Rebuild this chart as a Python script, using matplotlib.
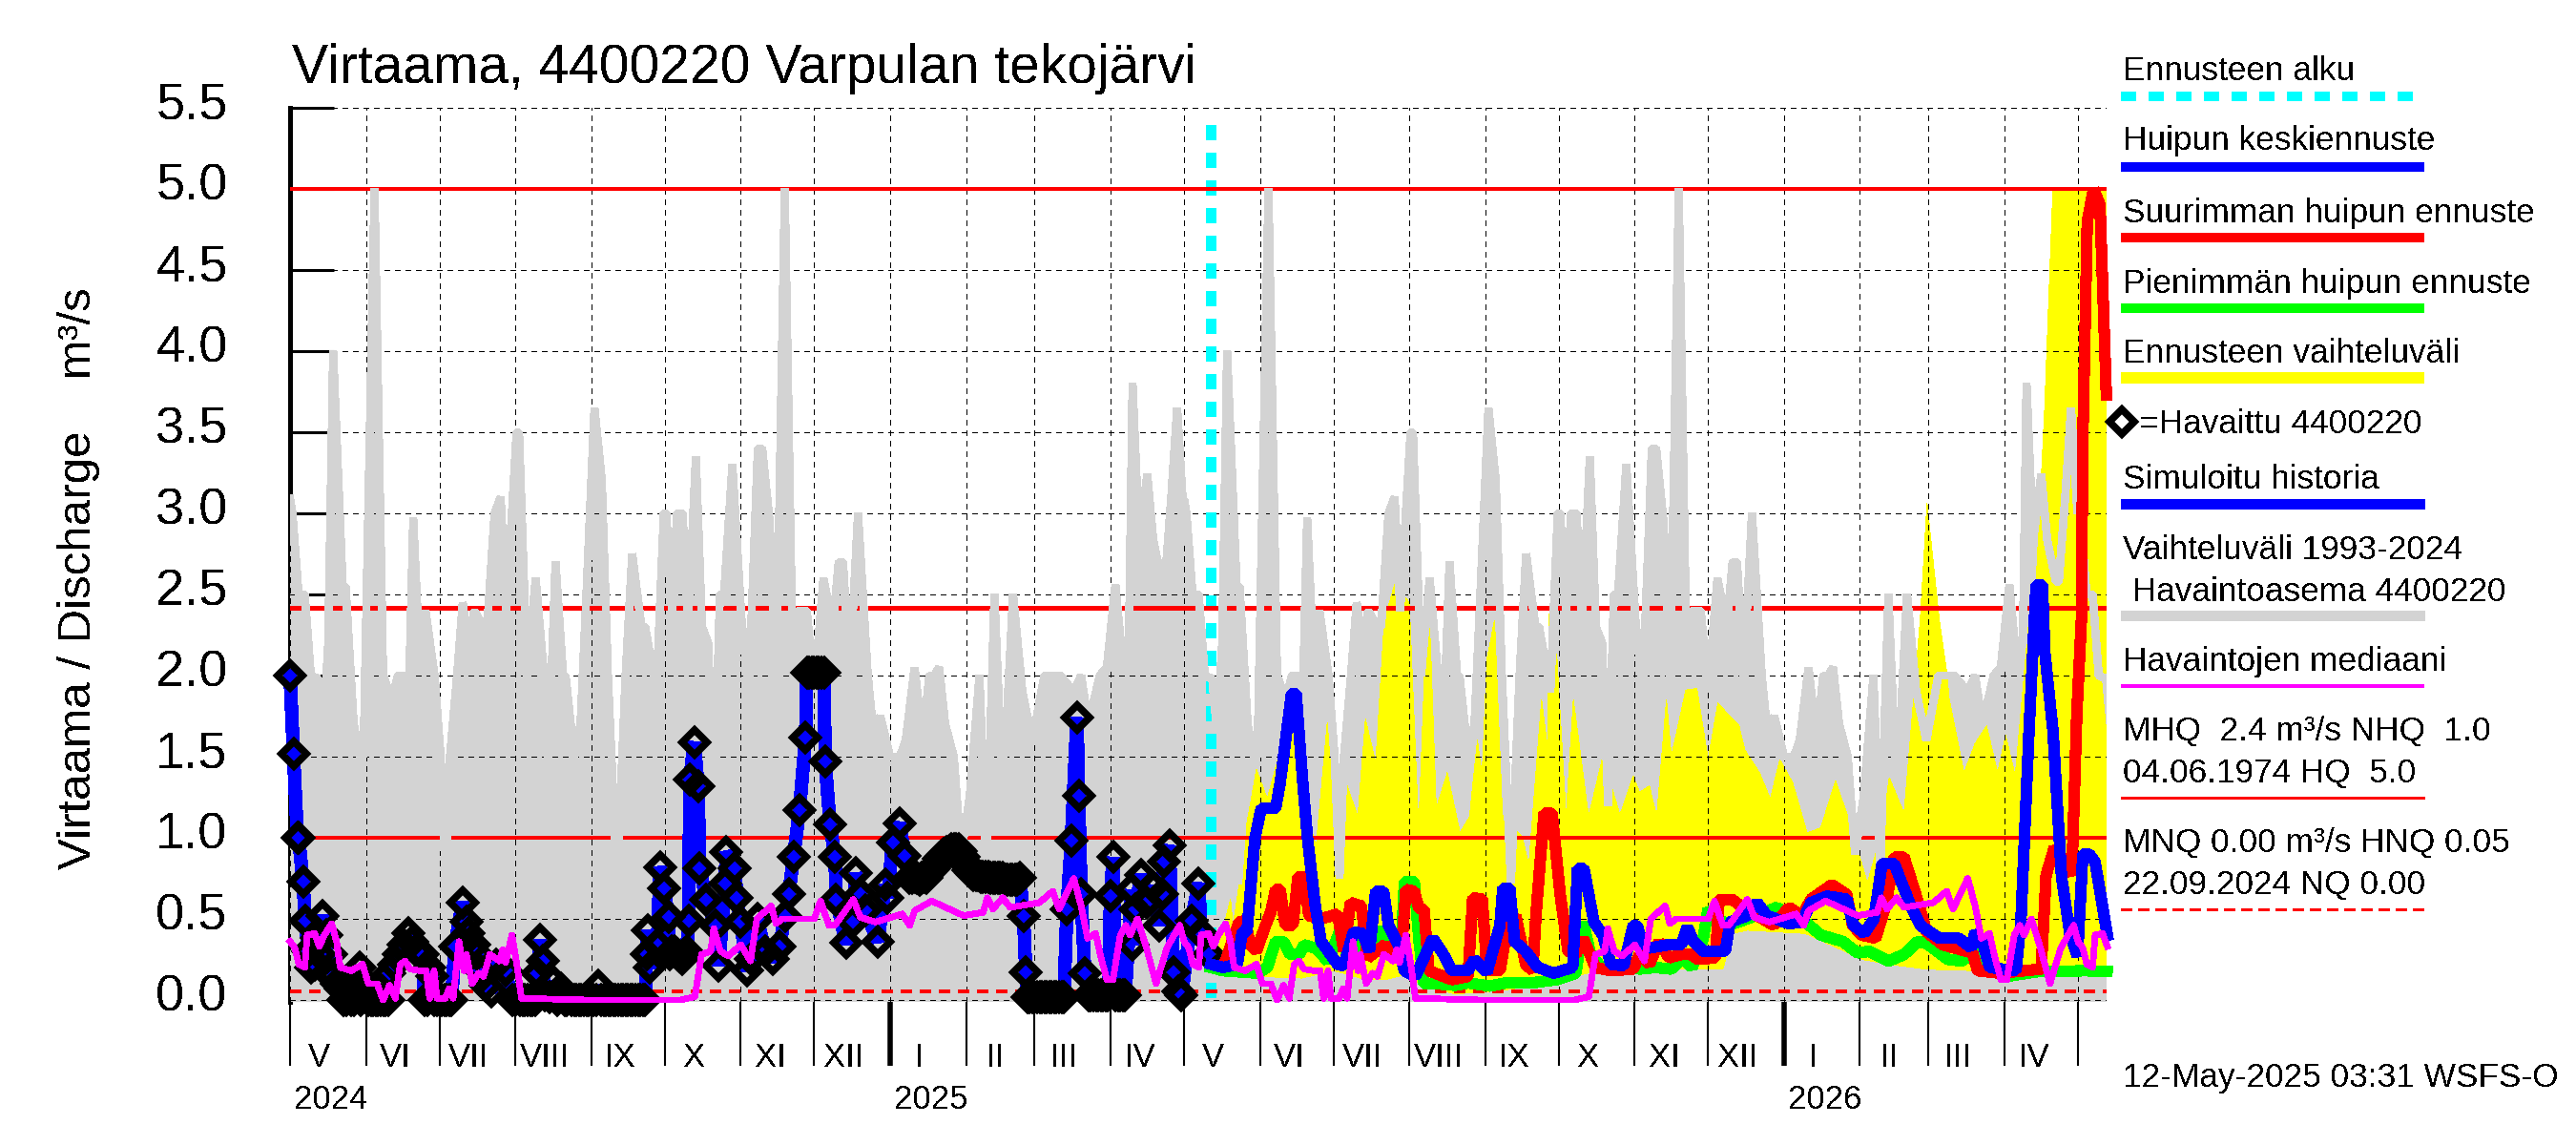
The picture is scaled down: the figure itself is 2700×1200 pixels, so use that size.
import numpy as np
import matplotlib
matplotlib.use("Agg")
import matplotlib.pyplot as plt
from matplotlib.lines import Line2D
from matplotlib.transforms import ScaledTranslation

plt.rcParams['font.family'] = ['Liberation Sans', 'DejaVu Sans']
plt.rcParams['text.antialiased'] = False
plt.rcParams['lines.antialiased'] = False
plt.rcParams['patch.antialiased'] = False
plt.rcParams['lines.scale_dashes'] = False

# all x values are days since 1 May 2024

month_days = [0, 31, 61, 92, 123, 153, 184, 214, 245, 276, 304, 335, 365, 396, 426, 457, 488, 518,
              549, 579, 610, 641, 669, 700, 730]
month_names = ['V', 'VI', 'VII', 'VIII', 'IX', 'X', 'XI', 'XII', 'I', 'II', 'III', 'IV',
               'V', 'VI', 'VII', 'VIII', 'IX', 'X', 'XI', 'XII', 'I', 'II', 'III', 'IV']
year_days = [245, 610]
year_names = [(0, '2024'), (245, '2025'), (610, '2026')]
ytick_vals = [0.0, 0.5, 1.0, 1.5, 2.0, 2.5, 3.0, 3.5, 4.0, 4.5, 5.0, 5.5]
forecast_start = 376

# upper edge of the 1993-2024 range, one year (it repeats in the picture)
grey_days = [0, 1, 3.5, 6, 8.5, 11.5, 13.5, 15.6, 17.6, 21.5, 22.7, 26, 28.5, 30, 34.5, 38, 41.7, 44, 46.5, 48.4,
             50.3, 52.9, 55.3, 59, 61.5, 63.5, 65.3, 68.2, 70.5, 72.7, 75.2, 79, 80.5, 83.5, 86, 88.3, 92.5,
             93.5, 96.8, 100.3, 103.7, 105.5, 108.4, 111.5, 112.5, 116, 118.6, 121, 124.3, 127.3, 129.8, 133.5,
             137, 139.7, 143.5, 145, 149.6, 152.6, 153.6, 156, 158, 160.3, 162.5, 165.7, 168.2, 170.7, 173.2,
             175.5, 177.2, 180.6, 184.3, 187.3, 191, 192.8, 195.8, 198.6, 202, 205, 207.5, 211, 214, 217.8,
             221.6, 224, 225.8, 228.5, 231.9, 235.9, 238.2, 241, 245, 249, 251.4, 255, 258.3, 261, 263, 265,
             267.5, 271, 274, 277.5, 281.5, 284.3, 287.6, 290.6, 292.4, 295.2, 299, 303.1, 308, 314.5, 320,
             323, 326, 330.6, 333.5, 337, 339.5, 342.5, 344, 346.7, 350, 352.5, 356, 357.2, 359.8, 362.2, 364.8]
grey_vals = [3.09, 3.0, 2.5, 2.5, 2.0, 1.98, 1.65, 2.2, 4.0, 2.55, 2.55, 1.7, 1.5, 1.5, 5.0, 2.0, 1.85, 2.0, 2.0, 1.8,
             2.97, 2.1, 2.4, 2.0, 1.5, 0.75, 1.5, 2.0, 2.45, 2.2, 2.4, 2.3, 2.3, 3.0, 3.1, 2.4, 3.5,
             3.5, 2.0, 2.6, 2.0, 1.45, 2.7, 2.0, 2.0, 1.5, 1.7, 2.5, 3.65, 3.2, 2.0, 0.72,
             2.0, 2.75, 2.3, 2.3, 1.9, 3.0, 3.0, 2.4, 3.0, 3.0, 2.3, 3.35, 2.3, 2.2, 1.2,
             2.5, 2.5, 3.3, 2.35, 1.9, 3.4, 3.4, 2.95, 2.0, 5.0, 2.3, 2.4, 2.4, 1.9, 2.6,
             2.3, 2.7, 2.7, 2.0, 3.0, 2.0, 1.65, 1.75, 1.5, 1.5, 1.6, 2.05, 1.6, 2.0, 2.0, 2.05,
             1.7, 1.5, 0.9, 1.25, 2.0, 0.8, 2.5, 1.4, 1.66, 2.5, 1.9, 1.6, 2.0, 2.0, 1.9,
             2.0, 1.7, 2.0, 2.05, 2.56, 2.15, 2.2, 3.8, 2.83, 3.24, 2.83, 2.58, 2.58, 3.1, 3.65, 3.0]

# median of the observations, one year (it repeats too)
median_days = [0, 2, 3.6, 6, 7, 10, 12, 14, 17, 19, 20.5, 25, 29.6, 32, 35.5, 38, 40.6, 43, 45, 47, 49, 53,
               55.6, 57, 58.8, 60, 63.4, 65, 66.6, 69, 71, 72, 74.4, 77, 79, 81.6, 85.5, 86.8, 88, 90.6,
               92.6, 94.5, 120.5, 159.5, 165.3, 168, 171.8, 173, 175.7, 179, 184, 188, 190.6, 196.5,
               198.4, 201, 214, 216.6, 220, 222.5, 230, 232.8, 239, 250, 253, 255, 262, 275, 283, 284.7,
               287, 291, 294, 306, 311.4, 314, 320, 323, 325.6, 328.9, 330.8, 333.5, 336, 339, 341.3,
               343, 346, 349.7, 353.6, 358, 363.3]
median_vals = [0.36, 0.32, 0.22, 0.2, 0.4, 0.41, 0.33, 0.4, 0.47, 0.36, 0.2, 0.18, 0.22, 0.1, 0.1, 0.0, 0.09,
               0.01, 0.22, 0.24, 0.19, 0.18, 0.18, 0.01, 0.18, 0.01, 0.01, 0.07, 0.01, 0.36, 0.18, 0.28,
               0.1, 0.165, 0.145, 0.28, 0.24, 0.31, 0.23, 0.4, 0.22, 0.01, 0.0, 0.0, 0.02, 0.28, 0.3, 0.44,
               0.3, 0.27, 0.34, 0.24, 0.5, 0.58, 0.47, 0.5, 0.5, 0.61, 0.46, 0.46, 0.62, 0.51, 0.48, 0.53,
               0.46, 0.55, 0.61, 0.52, 0.54, 0.63, 0.56, 0.63, 0.57, 0.6, 0.67, 0.56, 0.75, 0.58, 0.38,
               0.41, 0.28, 0.125, 0.125, 0.4, 0.46, 0.4, 0.5, 0.32, 0.1, 0.32, 0.46]

# observed discharge
obs_days = [0, 1.4, 3, 3.5, 5.3, 6.2, 7.5, 8.5, 10, 11, 12, 13.4, 14.7, 15.3, 16.6, 18, 19, 20.5, 21.8, 23,
            24, 25, 27, 28.3, 30, 31, 32, 33, 36, 38, 40, 40.6, 42.6, 44.5, 46.5, 48.4, 50, 52, 54, 55, 57,
            58, 60, 63, 66, 67.3, 70.4, 72, 73, 75, 76.4, 77.7, 80, 82, 84, 88, 90.6, 94, 98, 101, 102,
            103.4, 107, 110.8, 115, 120, 124, 126, 128, 132, 138, 145, 145.5, 146, 147, 150, 151, 152.7,
            154.5, 157, 160, 162, 162.7, 163.3, 165, 166.6, 167.3, 170, 173.7, 175, 177.7, 178, 181.6,
            182.5, 184, 186.7, 188, 190.7, 194, 197, 200, 202, 203.6, 205.6, 208, 210.5, 211, 214, 216,
            218, 218.5, 220.5, 222.5, 223, 227, 230, 231, 233, 235, 240, 243, 244, 246, 248.8, 251, 253,
            258, 260, 263, 268, 273, 276, 280, 289, 298, 299.5, 300.4, 301, 305, 310, 316, 317.2, 319,
            321.3, 322, 323, 324.5, 326, 330, 335, 336, 338, 340, 343.6, 344, 345, 347.5, 350, 352, 354.8,
            356, 356.8, 359, 360.8, 362.5, 364, 368, 371, 372, 375]
obs_vals = [2.0, 1.52, 1.0, 1.0, 0.73, 0.49, 0.3, 0.2, 0.22, 0.38, 0.28, 0.52, 0.4, 0.17, 0.28, 0.15, 0.1, 0.07,
            0.0, 0.0, 0.05, 0.0, 0.08, 0.2, 0.12, 0.05, 0.0, 0.0, 0.0, 0.0, 0.0, 0.165, 0.22, 0.28, 0.34, 0.41,
            0.36, 0.3, 0.28, 0.0, 0.2, 0.145, 0.0, 0.0, 0.0, 0.33, 0.6, 0.48, 0.41, 0.34, 0.28, 0.18, 0.09,
            0.05, 0.22, 0.18, 0.0, 0.0, 0.0, 0.165, 0.37, 0.24, 0.115, 0.07, 0.0, 0.0, 0.0, 0.09, 0.0, 0.0,
            0.0, 0.0, 0.28, 0.43, 0.2, 0.34, 0.82, 0.69, 0.51, 0.3, 0.25, 0.3, 0.49, 1.36, 1.59, 1.32, 0.81,
            0.62, 0.46, 0.21, 0.72, 0.91, 0.81, 0.63, 0.48, 0.18, 0.25, 0.5, 0.3, 0.25, 0.33, 0.52, 0.65,
            0.88, 1.17, 1.62, 2.02, 2.02, 2.02, 2.02, 1.47, 1.08, 0.88, 0.62, 0.35, 0.48, 0.78, 0.65, 0.55,
            0.36, 0.71, 0.63, 0.97, 1.09, 0.89, 0.75, 0.75, 0.75, 0.81, 0.91, 0.93, 0.83, 0.77, 0.75, 0.75,
            0.52, 0.17, 0.02, 0.02, 0.02, 0.02, 0.56, 0.98, 1.74, 1.26, 0.65, 0.165, 0.03, 0.03, 0.64, 0.88,
            0.03, 0.03, 0.68, 0.34, 0.56, 0.77, 0.6, 0.7, 0.46, 0.65, 0.85, 0.95, 0.17, 0.05, 0.03, 0.49,
            0.72, 0.41, 0.28]
# the dense stretches, where the diamonds run together into black blobs
run_days = [22, 26, 29, 34, 35, 37, 39, 56, 59, 61, 62, 64, 65, 92, 95, 96, 97, 99, 100, 104, 106, 109, 112, 113,
            116, 117, 118, 119, 121, 122, 123, 125, 127, 129, 130, 131, 133, 134, 135, 136, 137, 139, 140, 141,
            142, 143, 144, 155, 156, 158, 159, 161, 212, 213, 215, 217, 254, 255, 256, 257, 259, 261, 262, 264,
            265, 266, 267, 269, 270, 271, 272, 274, 275, 277, 278, 279, 281, 282, 283, 284, 285, 286, 287, 288,
            290, 291, 292, 293, 294, 295, 296, 297, 302, 303, 304, 306, 307, 308, 309, 311, 312, 313, 314, 315,
            327, 328, 329, 331, 332, 333, 334, 337, 339, 341]
run_vals = [0, 0, 0, 0, 0, 0, 0, 0, 0, 0, 0, 0, 0, 0, 0, 0, 0, 0, 0, 0.03, 0.02, 0, 0, 0,
            0, 0, 0, 0, 0, 0, 0, 0, 0, 0, 0, 0, 0, 0, 0, 0, 0, 0, 0, 0,
            0, 0, 0, 0.28, 0.3, 0.28, 0.27, 0.28, 2.02, 2.02, 2.02, 2.02, 0.75, 0.76, 0.75, 0.74, 0.76, 0.78, 0.8, 0.84,
            0.87, 0.89, 0.9, 0.92, 0.93, 0.93, 0.93, 0.92, 0.88, 0.8, 0.78, 0.77, 0.77, 0.76, 0.76, 0.76, 0.76, 0.75, 0.75, 0.75,
            0.75, 0.75, 0.74, 0.74, 0.74, 0.74, 0.74, 0.74, 0.02, 0.02, 0.02, 0.02, 0.02, 0.02, 0.02, 0.02, 0.02, 0.02, 0.02, 0.02,
            0.03, 0.03, 0.03, 0.03, 0.03, 0.03, 0.03, 0.03, 0.03, 0.03]

# forecast: middle peak
blue_days = [376, 381, 386.8, 388.8, 390.7, 394, 396.5, 402.4, 404.3, 408.9, 410.8, 413.4, 415.4, 418.6, 421,
             427.7, 430.3, 434.2, 438, 440.7, 443.3, 446.5, 448.5, 452.4, 455, 459.5, 466.6, 470.6, 474.4,
             481, 483.5, 488.7, 494, 495.2, 498, 500, 504.5, 509.5, 516, 523.7, 525.7, 528.3, 532.4, 536,
             539.3, 544.5, 548.4, 550, 552, 555, 562.7, 568, 570.5, 573, 577, 586, 588, 595, 599, 603, 612,
             617.4, 621, 627.6, 635.7, 638.3, 642.8, 646.7, 650, 655, 661.7, 665.6, 673.5, 681.3, 686.5,
             688, 691, 694, 704.7, 706.7, 710, 712.9, 715.5, 716.5, 719.8, 723.3, 726.8, 729.8, 732, 734.6,
             737, 742]
blue_vals = [0.22, 0.2, 0.22, 0.42, 0.42, 1.0, 1.18, 1.18, 1.34, 1.89, 1.89, 1.36, 1.0, 0.58, 0.36,
             0.22, 0.21, 0.42, 0.41, 0.3, 0.67, 0.67, 0.46, 0.34, 0.18, 0.145, 0.38, 0.29, 0.18,
             0.18, 0.25, 0.17, 0.46, 0.69, 0.69, 0.36, 0.3, 0.2, 0.165, 0.2, 0.81, 0.81, 0.48, 0.4,
             0.22, 0.21, 0.46, 0.46, 0.36, 0.32, 0.34, 0.34, 0.45, 0.36, 0.3, 0.3, 0.48, 0.52, 0.6, 0.52, 0.47,
             0.48, 0.6, 0.64, 0.62, 0.46, 0.41, 0.5, 0.84, 0.84, 0.58, 0.46, 0.38, 0.38, 0.32,
             0.42, 0.36, 0.2, 0.18, 0.48, 1.65, 2.56, 2.56, 2.14, 1.66, 0.76, 0.4, 0.27, 0.9, 0.9,
             0.85, 0.4]

# forecast: largest peak
red_days = [376, 381, 387.5, 390, 392, 394.6, 397.8, 400.4, 402.4, 404.3, 406.3, 409.5, 411.5, 414, 416, 421,
            427.7, 430.3, 433, 437.4, 440, 447, 450, 453.6, 455.6, 459, 461, 463, 465, 474.4, 481, 482.9,
            486.8, 488.7, 494, 496.6, 500.5, 504.5, 507.4, 508.8, 512, 515.3, 518.6, 521.8, 525, 528, 533,
            539.3, 548.4, 551, 555, 559, 563, 568, 572, 575, 582, 583.5, 588.8, 594, 599, 605.7, 612, 617.4,
            621, 629.5, 635.6, 638, 641.8, 647.4, 651.5, 655, 659, 664, 668.2, 674.8, 687, 689, 698, 715,
            717, 720.4, 725.6, 727.5, 729.5, 731.4, 732, 733.8, 736.4, 739, 741.6]
red_vals = [0.22, 0.2, 0.48, 0.49, 0.34, 0.3, 0.44, 0.54, 0.68, 0.68, 0.46, 0.46, 0.76, 0.76, 0.52, 0.5,
            0.53, 0.3, 0.6, 0.58, 0.26, 0.34, 0.28, 0.26, 0.68, 0.67, 0.56, 0.56, 0.18, 0.125, 0.145, 0.63,
            0.62, 0.18, 0.18, 0.41, 0.52, 0.22, 0.18, 0.54, 1.15, 1.15, 0.65, 0.3, 0.28, 0.38, 0.2,
            0.18, 0.19, 0.28, 0.22, 0.36, 0.26, 0.28, 0.28, 0.25, 0.26, 0.62, 0.62, 0.56, 0.52, 0.46, 0.57, 0.52,
            0.62, 0.71, 0.65, 0.46, 0.4, 0.38, 0.58, 0.88, 0.88, 0.64, 0.42, 0.34, 0.29, 0.18, 0.165, 0.19,
            0.77, 0.94, 0.83, 0.77, 1.75, 2.34, 3.46, 4.8, 5.0, 4.9, 3.73]

# forecast: smallest peak
green_days = [376, 381, 395, 399, 402.4, 405.6, 408.3, 412, 414, 418.6, 423.8, 429, 431.6, 435, 439.4, 442,
              445.9, 450, 453.6, 455, 459, 461, 463, 468, 475.7, 481, 490, 496.5, 507, 517.3, 525, 528, 531,
              535.4, 539.3, 545.8, 551, 557.5, 564, 568.6, 572.5, 577, 579, 583, 587.5, 595, 607, 618.7, 625,
              634, 640, 644.8, 652.7, 659, 664.5, 668, 677, 682.6, 687.8, 693, 700.8, 713.8, 733.4, 741.9]
green_vals = [0.2, 0.18, 0.165, 0.2, 0.36, 0.36, 0.28, 0.28, 0.34, 0.32, 0.24, 0.44, 0.28, 0.22, 0.52, 0.3,
              0.44, 0.34, 0.28, 0.73, 0.73, 0.36, 0.1, 0.1, 0.09, 0.105, 0.085, 0.105, 0.105, 0.125, 0.165, 0.48, 0.28,
              0.2, 0.18, 0.22, 0.19, 0.2, 0.19, 0.26, 0.2, 0.38, 0.56, 0.5, 0.46, 0.5, 0.57, 0.48, 0.4,
              0.36, 0.29, 0.3, 0.24, 0.28, 0.36, 0.35, 0.25, 0.24, 0.3, 0.19, 0.145, 0.175, 0.18, 0.175]

# forecast range
ymax_days = [377, 384, 385, 387.5, 389, 390.7, 394.6, 399, 409, 415, 419, 423.5, 427, 431.6, 436, 439.1, 443.3,
             446.8, 451, 457, 460.8, 464.7, 468, 472.5, 477.7, 481.6, 484.8, 486.7, 488.7, 491.8, 495, 503.2,
             505.8, 511, 513.4, 514, 517.3, 521, 524, 530.2, 536, 543, 548.4, 551, 555, 558, 562, 564, 569.9,
             574.4, 579, 583, 586, 591.6, 594, 600, 604.4, 608.3, 613.5, 619.4, 625, 631, 637, 644, 648.7, 653,
             659, 663, 665.6, 668.4, 673.4, 676.4, 677.4, 683.5, 688, 692.7, 697.2, 700.5, 704.4, 710, 712.9,
             716.4, 719.8, 741.7]
ymax_vals = [0.2, 0.62, 0.45, 0.71, 0.71, 1.09, 1.42, 1.24, 1.8, 1.15, 0.95, 1.71, 1.0, 1.32, 1.13, 1.73, 1.46,
             2.34, 2.56, 2.45, 1.05, 2.6, 1.18, 1.4, 1.03, 1.13, 1.6, 1.38, 2.1, 2.34, 1.14, 1.0,
             0.83, 1.85, 1.56, 2.38, 2.1, 1.13, 1.85, 1.13, 1.5, 1.14, 1.38, 1.28, 1.32, 1.13, 1.85, 1.5, 1.91,
             1.92, 1.48, 1.83, 1.78, 1.69, 1.54, 1.4, 1.24, 1.48, 1.34, 1.03, 1.06, 1.35, 1.09, 0.72, 0.97, 1.37,
             1.15, 1.87, 2.34, 3.06, 2.34, 2.02, 1.86, 1.4, 1.58, 1.69, 1.4, 1.63, 1.38, 2.34, 2.56,
             3.64, 5.0, 5.0]
ymin_days = [377, 395, 413, 426.4, 439.4, 447, 455, 463, 475.7, 494, 507, 517.3, 533.5, 559, 585, 589, 595,
             618.7, 642, 652.7, 668, 689, 700.8, 717.7, 741.7]
ymin_vals = [0.18, 0.145, 0.135, 0.18, 0.125, 0.125, 0.155, 0.086, 0.037, 0.057, 0.086, 0.115, 0.18, 0.19, 0.19,
             0.41, 0.43, 0.41, 0.25, 0.22, 0.19, 0.18, 0.145, 0.155, 0.155]

hq_val, mhq_val, nhq_val, hnq_val = 5.0, 2.42, 1.0, 0.05

RED, BLUE, GREEN, YELLOW, CYAN, GREY, MAGENTA = '#ff0000', '#0000ff', '#00ff00', '#ffff00', '#00ffff', '#d3d3d3', '#ff00ff'

W, H = 2700, 1200
fig = plt.figure(figsize=(27, 12), dpi=100, facecolor='white')
ax = fig.add_axes([304 / W, 1 - 1050 / H, (2208 - 304) / W, (1050 - 113) / H])
ax.set_xlim(0, 741.7)
ax.set_ylim(-0.012, 5.5)


def repeat_year(days, vals):
    d = np.asarray(days)
    return np.r_[d, d + 365, d + 730], np.r_[vals, vals, vals]


g_d, g_v = repeat_year(grey_days, grey_vals)
m_d, m_v = repeat_year(median_days, median_vals)

all_obs_d = np.r_[obs_days, run_days]
all_obs_v = np.r_[obs_vals, run_vals]
order = np.argsort(all_obs_d)
all_obs_d, all_obs_v = all_obs_d[order], all_obs_v[order]

# layers, bottom to top
ax.fill_between(g_d, -0.012, g_v, color=GREY, lw=0, zorder=1, antialiased=False)
ax.fill(np.r_[ymax_days, ymin_days[::-1]], np.r_[ymax_vals, ymin_vals[::-1]], color=YELLOW, lw=0, zorder=2)

for y in ytick_vals:
    ax.axhline(y, color='black', lw=0.8, ls=(0, (3.6, 3.6)), zorder=3)
for x in month_days + [741.7]:
    ax.axvline(x, color='black', lw=0.8, ls=(0, (3.6, 3.6)), zorder=3)

ax.plot([forecast_start, forecast_start], [0.02, 5.42], color=CYAN, lw=7.6, ls=(0, (10.8, 9.4)),
        dash_capstyle='butt', zorder=3.2)
ax.axhline(hq_val, color=RED, lw=2.6, zorder=3.5)
ax.axhline(mhq_val, color=RED, lw=3.4, zorder=3.5)
ax.axhline(nhq_val, color=RED, lw=2.6, zorder=3.5)
ax.axhline(hnq_val, color=RED, lw=2.6, ls=(0, (8, 6)), zorder=3.5)

# thick outline of the range hides the red lines where it dips
ax.plot(g_d, g_v, color=GREY, lw=5.5, solid_joinstyle='bevel', zorder=4)

ax.plot(all_obs_d, all_obs_v, color=BLUE, lw=9.5, solid_joinstyle='bevel', zorder=5, clip_on=False)
ax.plot(all_obs_d, all_obs_v, ls='none', marker='D', ms=13.5, mfc='none', mec='black', mew=5.5, zorder=5.5, clip_on=False)

ax.plot(green_days, green_vals, color=GREEN, lw=8, solid_joinstyle='bevel', zorder=6, clip_on=False)
ax.plot(red_days, red_vals, color=RED, lw=8, solid_joinstyle='bevel', zorder=7, clip_on=False)
ax.plot(blue_days, blue_vals, color=BLUE, lw=8, solid_joinstyle='bevel', zorder=8, clip_on=False)
ax.plot(m_d[m_d <= 742], m_v[m_d <= 742], color=MAGENTA, lw=4.2, zorder=10, clip_on=False)

# axes
for s in ['top', 'right', 'bottom']:
    ax.spines[s].set_visible(False)
ax.spines['left'].set_linewidth(2.2)
ax.spines['left'].set_zorder(0.6)
ax.set_axisbelow(True)

ax.set_yticks(ytick_vals)
ax.set_yticklabels(['%.1f' % v for v in ytick_vals], fontsize=39)
ax.tick_params(axis='y', direction='in', length=33, width=2.2, pad=47)
shift = ScaledTranslation(0, 8 / 100, fig.dpi_scale_trans)
for lab in ax.get_yticklabels():
    lab.set_transform(lab.get_transform() + shift)

ax.set_xticks(month_days)
ax.tick_params(axis='x', direction='out', length=48, width=1.5, labelbottom=False)
for tick, d in zip(ax.xaxis.get_major_ticks(), month_days):
    if d in year_days:
        tick.tick1line.set_markeredgewidth(4)

trans = ax.get_xaxis_transform()
for d, name in zip(month_days[:-1], month_names):
    ax.annotate(name, (d + 12, 0), xycoords=trans, xytext=(0, -58 * 0.72), textcoords='offset points',
                ha='center', va='center', fontsize=25)
for d, name in year_names:
    ax.annotate(name, (d, 0), xycoords=trans, xytext=(4 * 0.72, -103 * 0.72), textcoords='offset points',
                ha='left', va='center', fontsize=25)


def label(px, py, s, size=25.4, **kw):
    fig.text(px / W, 1 - py / H, s, fontsize=size, va='center', ha='left', **kw)


def leg_line(py, color, lw_px, **kw):
    fig.add_artist(Line2D([2223 / W, 2541 / W], [1 - py / H, 1 - py / H], color=color, lw=lw_px * 0.72,
                          solid_capstyle='butt', dash_capstyle='butt', **kw))


label(306, 72, 'Virtaama, 4400220 Varpulan tekojärvi', size=41)
fig.text(83 / W, 1 - 606 / H, 'Virtaama / Discharge    m³/s', fontsize=35.5, rotation=90, ha='center', va='center')

label(2225, 74, 'Ennusteen alku')
leg_line(101, CYAN, 10, ls=(0, (10.8, 9.4)))
label(2225, 148, 'Huipun keskiennuste')
leg_line(175, BLUE, 10)
label(2225, 223, 'Suurimman huipun ennuste')
leg_line(249, RED, 10)
label(2225, 297, 'Pienimmän huipun ennuste')
leg_line(323, GREEN, 10)
label(2225, 370, 'Ennusteen vaihteluväli')
leg_line(396, YELLOW, 12)
fig.add_artist(Line2D([2224 / W], [1 - 442 / H], ls='none', marker='D', ms=13, mfc='none', mec='black', mew=5.5))
label(2242, 445, '=Havaittu 4400220')
label(2225, 502, 'Simuloitu historia')
leg_line(528, BLUE, 11)
label(2225, 577, 'Vaihteluväli 1993-2024')
label(2225, 620, ' Havaintoasema 4400220')
leg_line(645, GREY, 11)
label(2225, 694, 'Havaintojen mediaani')
leg_line(719, MAGENTA, 4)
label(2225, 766, 'MHQ  2.4 m³/s NHQ  1.0')
label(2225, 810, '04.06.1974 HQ  5.0')
leg_line(836, RED, 3)
label(2225, 883, 'MNQ 0.00 m³/s HNQ 0.05')
label(2225, 927, '22.09.2024 NQ 0.00')
leg_line(953, RED, 3, ls=(0, (8, 5)))
label(2225, 1129, '12-May-2025 03:31 WSFS-O')

fig.savefig('out.png', dpi=100)
